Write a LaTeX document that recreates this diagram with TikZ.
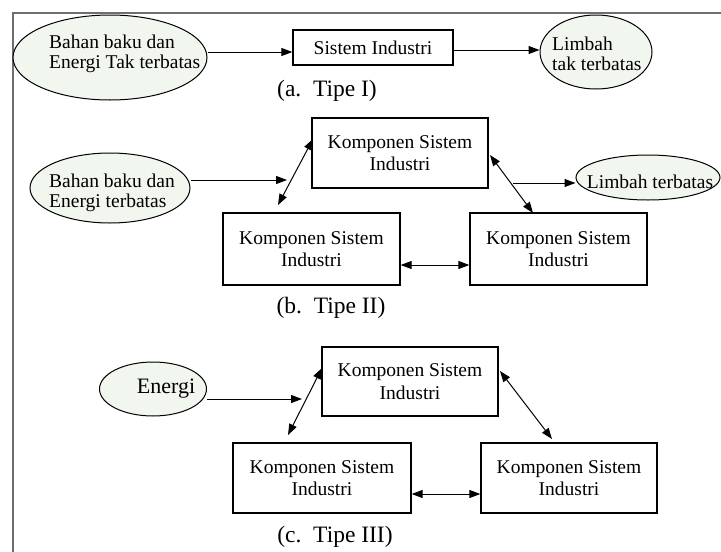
\documentclass[tikz,border=0pt]{standalone}
\usepackage{fontspec}
\setmainfont{Liberation Serif}
\usetikzlibrary{arrows.meta,shapes.geometric}
\definecolor{ellfill}{RGB}{241,246,239}
\definecolor{framecol}{RGB}{110,110,110}
\tikzset{
  box/.style={draw, line width=1.3pt, rectangle, inner sep=0pt, align=center,
    font=\fontsize{19.5}{22.5}\selectfont},
  ell/.style={draw, line width=1pt, ellipse, fill=ellfill, inner sep=0pt},
  txt/.style={inner sep=0pt, align=left, font=\fontsize{19.5}{20}\selectfont},
  captxt/.style={inner sep=0pt, font=\fontsize{23.5}{26}\selectfont},
  arr/.style={line width=1pt, -{Triangle[length=11pt,width=8pt]}},
  darr/.style={line width=1pt, {Triangle[length=11pt,width=8pt]}-{Triangle[length=11pt,width=8pt]}}
}
\begin{document}
\begin{tikzpicture}[x=1pt,y=-1pt]
\useasboundingbox (0,0) rectangle (721,552);
\fill[white] (0,0) rectangle (721,552);
% frame
\draw[framecol, line width=1.6pt] (13,552) -- (13,12.7) -- (721,12.7);

% ---------- Type I ----------
\node[ell, minimum width=194pt, minimum height=85pt] (e1) at (110,57.5) {};
\node[txt, anchor=west] (e1t) at (49,54) {Bahan baku dan\\Energi Tak terbatas};
\node[box, minimum width=160pt, minimum height=35pt] (s1) at (373,47.5) {Sistem Industri};
\node[ell, minimum width=112pt, minimum height=74pt] (l1) at (596,52) {};
\node[txt, anchor=west] (l1t) at (552,54) {Limbah\\tak terbatas};
\draw[arr] (e1.east |- 0,52) -- (s1.west |- 0,52);
\draw[arr] (s1.east |- 0,50) -- (l1.west |- 0,50);
\node[captxt] (capa) at (327,91) {(a.\ \ Tipe I)};

% ---------- Type II ----------
\node[box, minimum width=176pt, minimum height=70pt] (kb1) at (400,153) {Komponen Sistem\\Industri};
\node[box, minimum width=177pt, minimum height=72pt] (kb2) at (311.5,249) {Komponen Sistem\\Industri};
\node[box, minimum width=177pt, minimum height=72pt] (kb3) at (558.5,249) {Komponen Sistem\\Industri};
\node[ell, minimum width=160pt, minimum height=70pt] (eb) at (110,188) {};
\node[txt, anchor=west] (ebt) at (49,192.5) {Bahan baku dan\\Energi terbatas};
\node[ell, minimum width=144pt, minimum height=45pt] (lb) at (648,177.5) {};
\node[txt, anchor=center] (lbt) at (650,182) {Limbah terbatas};
\coordinate (pb) at (287,180);
\coordinate (b1) at (313,139);
\coordinate (b2) at (278,205);
\coordinate (b3) at (490,155);
\coordinate (b4) at (533,213);
\coordinate (b5) at (513,183);
\draw[arr] (eb.east |- pb) -- (pb);
\draw[darr] (b1) -- (b2);
\draw[darr] (b3) -- (b4);
\draw[darr] (kb2.east |- 0,265) -- (kb3.west |- 0,265);
\draw[arr] (b5) -- (lb.west |- b5);
\node[captxt] (capb) at (331,308) {(b.\ \ Tipe II)};

% ---------- Type III ----------
\node[box, minimum width=176pt, minimum height=69pt] (kc1) at (410,381.5) {Komponen Sistem\\Industri};
\node[box, minimum width=178pt, minimum height=70pt] (kc2) at (322,478) {Komponen Sistem\\Industri};
\node[box, minimum width=176pt, minimum height=70pt] (kc3) at (569,478) {Komponen Sistem\\Industri};
\node[ell, minimum width=107pt, minimum height=54pt] (ec) at (153,389) {};
\node[txt, anchor=center, font=\fontsize{22}{24}\selectfont] (ect) at (166,389) {Energi};
\coordinate (pc) at (302,399);
\coordinate (c1) at (322,368);
\coordinate (c2) at (288,435);
\coordinate (c3) at (500,371);
\coordinate (c4) at (552,439);
\draw[arr] (ec.east |- pc) -- (pc);
\draw[darr] (c1) -- (c2);
\draw[darr] (c3) -- (c4);
\draw[darr] (kc2.east |- 0,494) -- (kc3.west |- 0,494);
\node[captxt] (capc) at (335,537) {(c.\ \ Tipe III)};
\end{tikzpicture}
\end{document}
